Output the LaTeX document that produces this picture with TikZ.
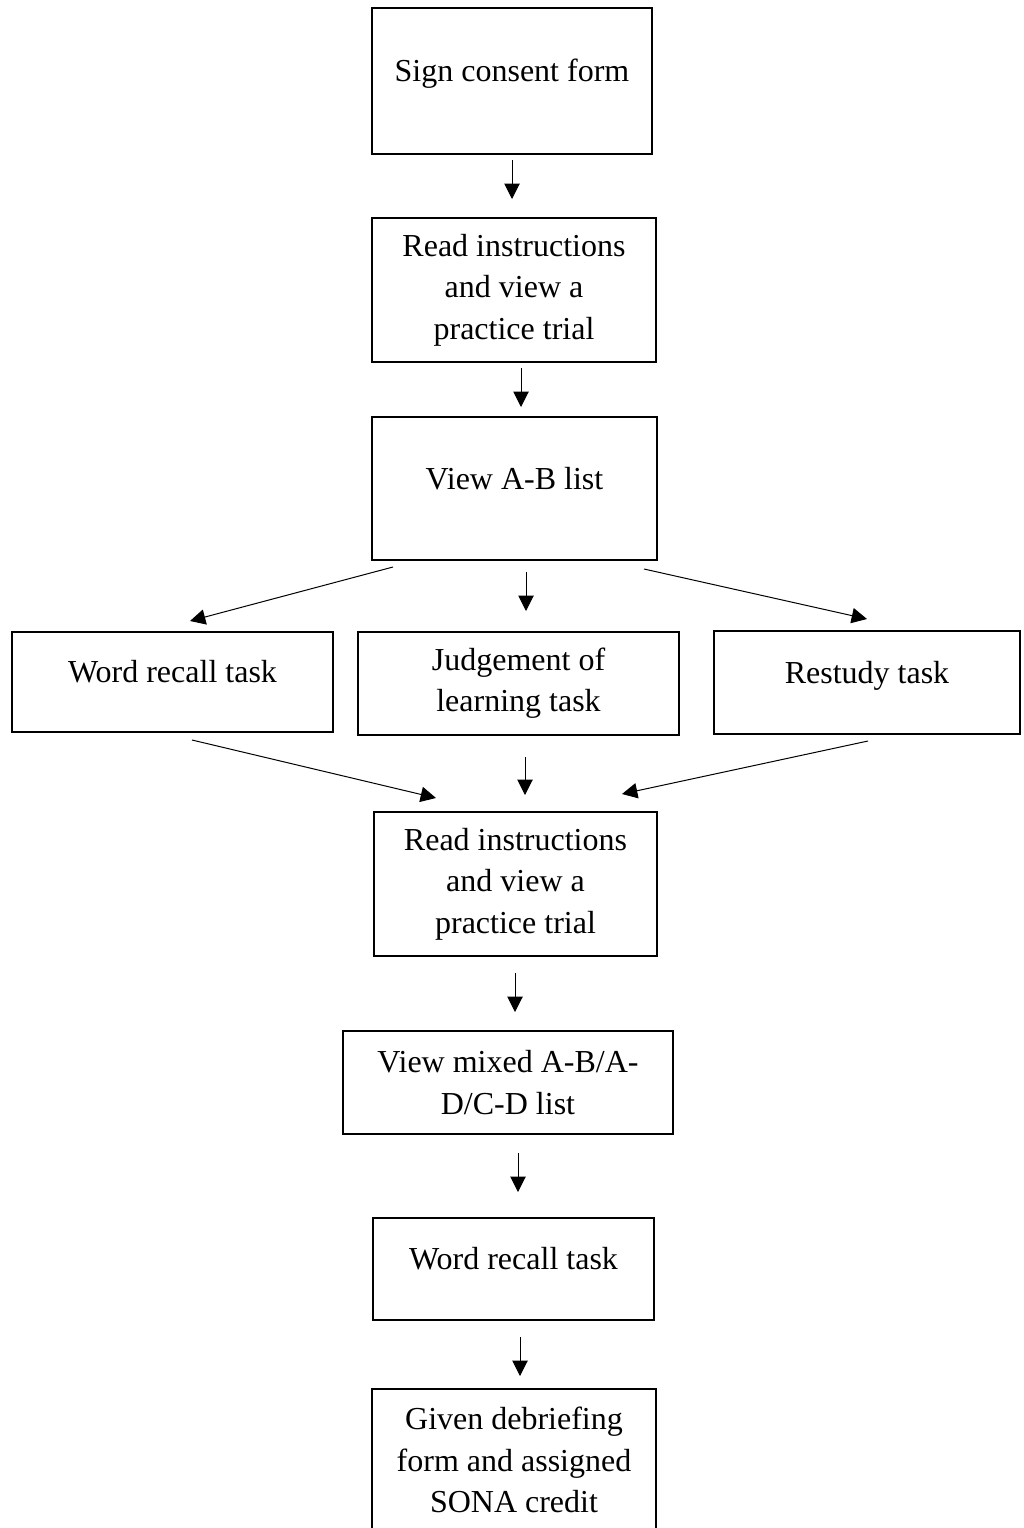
\documentclass[tikz,border=0pt]{standalone}
\usepackage{fontspec}
\setmainfont{Liberation Serif}
\usetikzlibrary{arrows.meta,calc}
\begin{document}
\begin{tikzpicture}[x=0.75pt,y=-0.75pt,
  box/.style={draw=black,line width=1.5pt,fill=white,rectangle,outer sep=0pt,inner sep=0pt,
    font=\fontsize{24pt}{31pt}\selectfont,align=center},
  one/.style={text height=16pt,text depth=15pt},
  arr/.style={line width=0.75pt,-{Triangle[width=11.5pt,length=11.5pt]}}]
\useasboundingbox (0,0) rectangle (1024,1528);
\fill[white] (0,0) rectangle (1024,1528);
\node[box,one,minimum width=210pt,minimum height=109.5pt] (sign) at (512,81) {Sign consent form};
\node[box,minimum width=213pt,minimum height=108pt] (read1) at (514,290) {Read instructions\\and view a\\practice trial};
\node[box,one,minimum width=213.75pt,minimum height=107.25pt] (viewab) at (514.5,488.5) {View A-B list};
\node[box,one,minimum width=240.75pt,minimum height=75pt] (wr1) at (172.5,682) {Word recall task};
\node[box,minimum width=240.75pt,minimum height=77.25pt] (jol) at (518.5,683.5) {Judgement of\\learning task};
\node[box,one,minimum width=229.5pt,minimum height=77.25pt] (rest) at (867,682.5) {Restudy task};
\node[box,minimum width=212.25pt,minimum height=108pt] (read2) at (515.5,884) {Read instructions\\and view a\\practice trial};
\node[box,minimum width=247.5pt,minimum height=77.25pt] (mixed) at (508,1082.5) {View mixed A-B/A-\\D/C-D list};
\node[box,one,minimum width=210.75pt,minimum height=76.5pt] (wr2) at (513.5,1269) {Word recall task};
\node[box,minimum width=213pt,minimum height=106.5pt] (given) at (514,1460) {Given debriefing\\form and assigned\\SONA credit};

\draw[arr] ($(sign.south)+(0,6)$) -- ($(read1.north)+(-2,-19)$);
\draw[arr] ($(read1.south)+(7,6)$) -- ($(viewab.north)+(6.5,-10)$);
\draw[arr] ($(viewab.south)+(11.5,12)$) -- ($(jol.north)+(7.5,-21)$);
\draw[arr] ($(viewab.south west)+(21,7)$) -- ($(wr1.north)+(17.5,-11)$);
\draw[arr] ($(viewab.south east)+(-13,9)$) -- ($(rest.north)+(0,-12)$);
\draw[arr] ($(jol.south)+(6.5,22)$) -- ($(read2.north)+(9.5,-17)$);
\draw[arr] ($(wr1.south)+(19.5,8)$) -- ($(read2.north west)+(62,-14)$);
\draw[arr] ($(rest.south)+(1,7)$) -- ($(read2.north east)+(-35,-18)$);
\draw[arr] ($(read2.south)+(-0.5,17)$) -- ($(mixed.north)+(7,-19)$);
\draw[arr] ($(mixed.south)+(10,19)$) -- ($(wr2.north)+(4.5,-26)$);
\draw[arr] ($(wr2.south)+(6.5,17)$) -- ($(given.north)+(6,-13)$);
\end{tikzpicture}
\end{document}
